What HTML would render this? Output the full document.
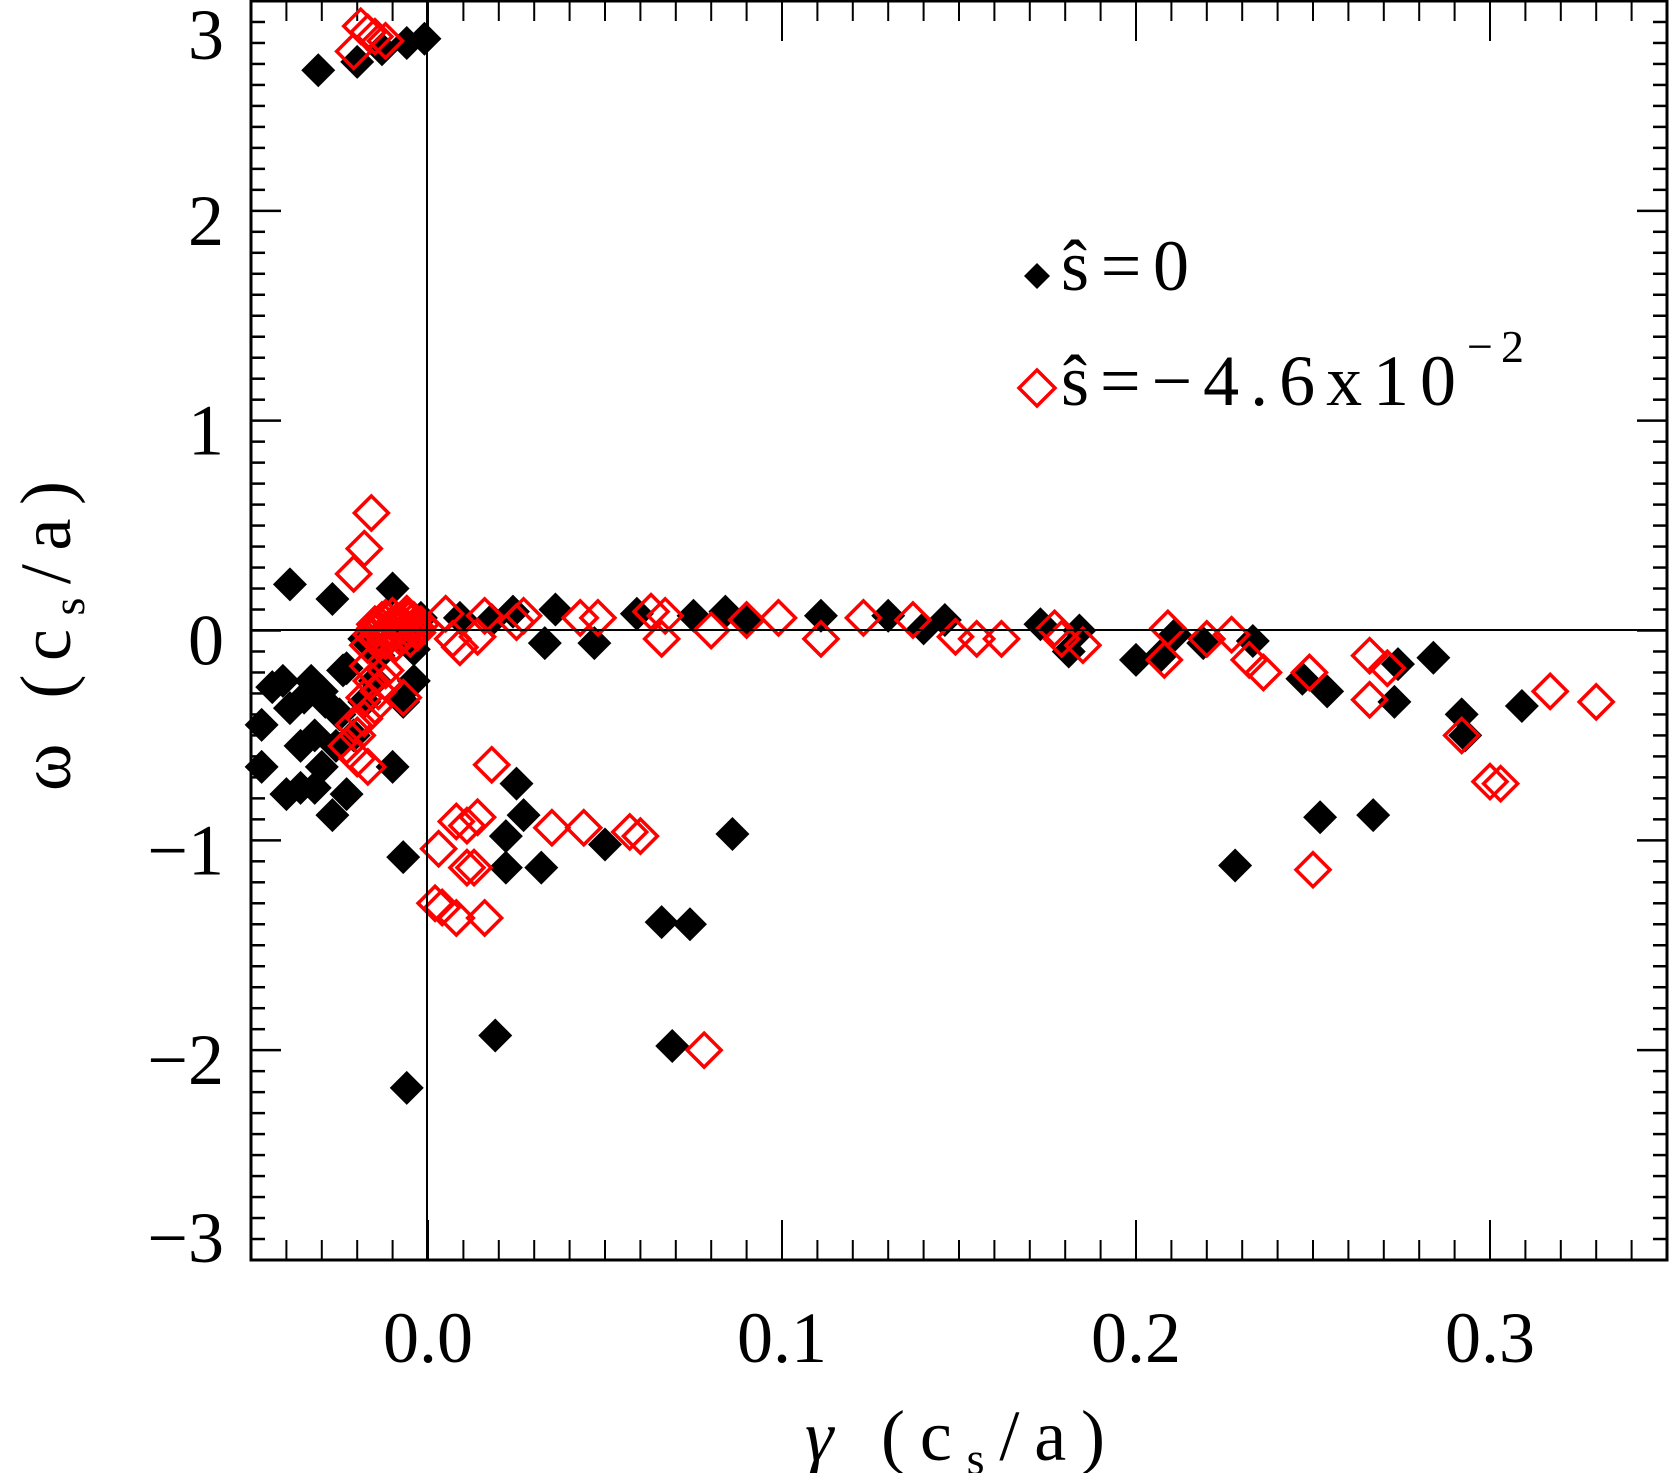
<!DOCTYPE html>
<html><head><meta charset="utf-8"><style>
html,body{margin:0;padding:0;background:#fff;}
svg{display:block;}
text{font-family:"Liberation Serif",serif;fill:#000;}
</style></head><body>
<svg id="chart" width="1669" height="1473" viewBox="0 0 1669 1473" xmlns="http://www.w3.org/2000/svg">
<g id="ticks"></g>
<g id="marks"></g>
<rect x="251" y="1" width="1416" height="1259" fill="none" stroke="#000" stroke-width="3"/>
<line x1="427" y1="1" x2="427" y2="1260" stroke="#000" stroke-width="2"/>
<line x1="251" y1="630" x2="1667" y2="630" stroke="#000" stroke-width="2"/>
<g id="labels"></g>
<text x="955" y="1460" font-size="72" text-anchor="middle" textLength="300" lengthAdjust="spacing"><tspan font-style="italic">γ</tspan> (c<tspan font-size="46" dy="14">s</tspan><tspan dy="-14">/a)</tspan></text>
<text transform="translate(70,636) rotate(-90)" font-size="72" text-anchor="middle" textLength="310" lengthAdjust="spacing"><tspan>ω</tspan> (c<tspan font-size="46" dy="14">s</tspan><tspan dy="-14">/a)</tspan></text>
<g>
<path d="M1037,263 L1050,276 L1037,289 L1024,276Z" fill="#000"/>
<text x="1061" y="290" font-size="72" textLength="128" lengthAdjust="spacing">ŝ=0</text>
<path d="M1037,370 L1055,388 L1037,406 L1019,388Z" fill="none" stroke="#f00" stroke-width="3.5"/>
<text x="1061" y="405" font-size="72" textLength="395" lengthAdjust="spacing">ŝ=−4.6x10</text>
<text x="1467" y="362" font-size="46" textLength="57" lengthAdjust="spacing">−2</text>
</g>
</svg>
<script>
const xTickLabels=["0.0","0.1","0.2","0.3"];
const xTickValues=[0,0.1,0.2,0.3];
const yTickValues=[3,2,1,0,-1,-2,-3];
const yTickLabels=["3","2","1","0","−1","−2","−3"];
const blackX=[-0.031,-0.020,-0.013,-0.006,-0.001,-0.039,-0.027,-0.010,
-0.047,-0.047,-0.044,-0.041,-0.039,-0.040,-0.036,-0.035,-0.033,-0.032,-0.030,-0.029,-0.027,-0.026,-0.025,-0.024,-0.023,-0.036,-0.032,-0.030,-0.021,-0.018,-0.015,-0.010,-0.007,-0.004,
-0.007,-0.006,-0.005,-0.002,-0.018,-0.023,-0.014,-0.004,
0.009,0.018,0.024,0.033,0.036,0.047,0.059,0.075,0.084,0.090,0.111,0.130,0.140,0.146,0.173,0.181,0.184,0.200,0.207,0.211,0.219,0.233,0.247,0.254,0.273,0.274,0.284,0.292,0.293,0.309,
0.228,0.252,0.267,0.025,0.027,0.022,0.022,0.032,0.050,0.066,0.074,0.086,0.019,0.069];
const blackY=[2.67,2.71,2.77,2.80,2.82,0.22,0.15,0.20,
-0.45,-0.65,-0.27,-0.24,-0.37,-0.78,-0.55,-0.32,-0.24,-0.50,-0.65,-0.34,-0.88,-0.55,-0.40,-0.19,-0.78,-0.75,-0.75,-0.29,-0.50,-0.34,-0.24,-0.65,-0.34,-0.24,
-1.08,-2.18,0.0,0.06,-0.04,-0.18,-0.12,-0.09,
0.06,0.05,0.09,-0.06,0.10,-0.06,0.08,0.07,0.09,0.05,0.07,0.07,0.01,0.05,0.03,-0.10,0.0,-0.14,-0.12,-0.02,-0.06,-0.05,-0.23,-0.29,-0.34,-0.16,-0.13,-0.40,-0.50,-0.36,
-1.12,-0.89,-0.88,-0.73,-0.88,-0.98,-1.13,-1.13,-1.02,-1.39,-1.40,-0.97,-1.93,-1.98];
const redX=[-0.019,-0.015,-0.012,-0.021,-0.017,-0.016,-0.018,-0.021,
-0.015,-0.012,-0.009,-0.006,-0.003,-0.014,-0.011,-0.008,-0.017,-0.005,-0.010,-0.007,-0.004,-0.013,
-0.016,-0.013,-0.011,-0.009,-0.008,-0.006,-0.004,-0.003,-0.012,-0.010,-0.007,-0.005,-0.002,-0.015,-0.009,-0.006,
-0.017,-0.016,-0.018,-0.014,-0.012,-0.007,-0.018,-0.020,-0.023,-0.020,-0.017,-0.021,-0.015,-0.012,
0.005,0.007,0.009,0.016,0.014,0.025,0.027,0.043,0.048,0.063,0.066,0.067,0.080,0.090,0.099,0.111,0.123,0.137,0.149,0.155,0.162,0.177,0.179,0.185,0.208,0.209,0.220,0.227,0.232,0.236,0.249,0.266,0.266,0.271,0.292,0.300,0.303,0.317,0.330,
0.003,0.002,0.004,0.008,0.008,0.011,0.014,0.011,0.013,0.016,0.018,0.035,0.044,0.057,0.060,0.250,0.078];
const redY=[2.88,2.83,2.81,2.76,2.85,0.56,0.39,0.27,
0.01,0.06,0.04,0.08,0.01,-0.04,-0.01,0.01,-0.07,0.06,0.03,-0.02,0.02,0.05,
-0.02,0.02,0.00,0.04,-0.03,0.01,0.05,-0.01,-0.05,0.07,0.03,-0.04,0.03,0.03,-0.06,0.06,
-0.17,-0.24,-0.32,-0.29,-0.19,-0.32,-0.42,-0.50,-0.55,-0.61,-0.65,-0.45,-0.36,-0.25,
0.08,-0.04,-0.08,0.07,-0.03,0.04,0.07,0.06,0.06,0.09,-0.04,0.07,0.0,0.05,0.06,-0.04,0.06,0.05,-0.03,-0.04,-0.04,0.01,-0.04,-0.07,-0.14,0.01,-0.04,-0.02,-0.14,-0.20,-0.20,-0.12,-0.33,-0.18,-0.50,-0.72,-0.73,-0.29,-0.34,
-1.04,-1.30,-1.32,-1.37,-0.91,-0.93,-0.89,-1.13,-1.13,-1.37,-0.64,-0.94,-0.94,-0.96,-0.98,-1.14,-2.00];

const NS="http://www.w3.org/2000/svg";
const X0=251,X1=1667,Y0=1260,Y1=1;
const xMin=-0.05,xMax=0.35,yMin=-3,yMax=3;
function sx(v){return X0+(v-xMin)/(xMax-xMin)*(X1-X0);}
function sy(v){return Y0-(v-yMin)/(yMax-yMin)*(Y0-Y1);}
function mk(tag,attrs,parent){const e=document.createElementNS(NS,tag);for(const k in attrs)e.setAttribute(k,attrs[k]);parent.appendChild(e);return e;}
const ticks=document.getElementById('ticks'),labels=document.getElementById('labels'),marks=document.getElementById('marks');
for(let i=-5;i<=35;i++){const v=i/100,x=sx(v),major=(i%10===0),L=major?40:20;
const t1=mk('line',{x1:x,x2:x,y1:Y0,y2:Y0-L,stroke:'#000','stroke-width':2},ticks);


const t2=mk('line',{x1:x,x2:x,y1:Y1,y2:Y1+L,stroke:'#000','stroke-width':2},ticks);

}
for(let i=-30;i<=30;i++){const v=i/10,y=sy(v),major=(i%10===0),L=major?30:14;
const t1=mk('line',{x1:X0,x2:X0+L,y1:y,y2:y,stroke:'#000','stroke-width':2.5},ticks);


const t2=mk('line',{x1:X1,x2:X1-L,y1:y,y2:y,stroke:'#000','stroke-width':2.5},ticks);

}
xTickLabels.forEach((s,i)=>{const t=mk('text',{x:sx(xTickValues[i]),y:1362,'font-size':72,'text-anchor':'middle'},labels);t.textContent=s;

});
yTickLabels.forEach((s,i)=>{let y=sy(yTickValues[i])+34;
if(yTickValues[i]===yMax)y=Y1+58;
if(yTickValues[i]===yMin)y=Y0+2;
const t=mk('text',{x:224,y:y,'font-size':72,'text-anchor':'end'},labels);t.textContent=s;

});
const H=17;
blackX.forEach((v,i)=>{const x=sx(v),y=sy(blackY[i]);
const p=mk('path',{d:`M${x},${y-H} L${x+H},${y} L${x},${y+H} L${x-H},${y}Z`,fill:'#000'},marks);

});
redX.forEach((v,i)=>{const x=sx(v),y=sy(redY[i]);
const p=mk('path',{d:`M${x},${y-H} L${x+H},${y} L${x},${y+H} L${x-H},${y}Z`,fill:'none',stroke:'#f00','stroke-width':3.5},marks);

});
</script>
</body></html>
